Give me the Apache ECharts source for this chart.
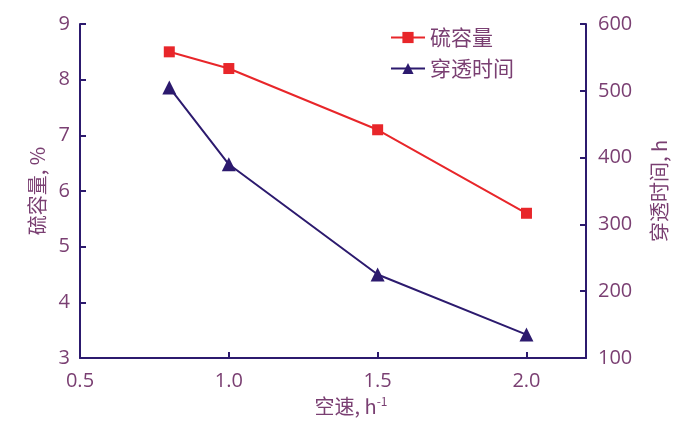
<!DOCTYPE html>
<html><head><meta charset="utf-8">
<script src="https://cdn.jsdelivr.net/npm/echarts@6/dist/echarts.min.js"></script>
<style>html,body{margin:0;padding:0;background:#fff}#c{width:687px;height:424px}</style>
</head><body><div id="c"></div>
<script>
const spaceVelocity = [0.8, 1.0, 1.5, 2.0];
const sulfurCapacity = [8.5, 8.2, 7.1, 5.6];
const breakthroughTime = [505, 390, 225, 135];
const leftTicks = [3, 4, 5, 6, 7, 8, 9];
const rightTicks = [100, 200, 300, 400, 500, 600];
const xTicks = [0.5, 1.0, 1.5, 2.0];

const axisColor = '#2c1a6e';
const labelColor = '#7a3f72';
const cjk = '"Noto Sans CJK SC", sans-serif';
const num = '"Open Sans", "Noto Sans", sans-serif';

const chart = echarts.init(document.getElementById('c'));
chart.setOption({
  animation: false,
  grid: { left: 80, right: 101, top: 24, bottom: 66 },
  legend: {
    orient: 'vertical', left: 385, top: 22, itemGap: 10,
    itemWidth: 34, itemHeight: 14,
    textStyle: { fontFamily: cjk, fontSize: 21, color: labelColor },
    data: ['硫容量', '穿透时间']
  },
  xAxis: {
    type: 'value', min: 0.5, max: 2.2, interval: 0.5,
    name: '空速, {h|h}{s|-1}', nameLocation: 'middle', nameGap: 37,
    nameTextStyle: { fontFamily: cjk, fontSize: 20, color: labelColor, padding: [0, 0, 0, 36],
      rich: { h: { fontFamily: cjk, fontSize: 20, color: labelColor }, s: { fontSize: 12, color: labelColor, verticalAlign: 'top', padding: [0, 0, 10, 0] } } },
    axisLine: { lineStyle: { color: axisColor, width: 2 } },
    axisTick: { inside: true, length: 6, lineStyle: { color: axisColor, width: 2 } },
    axisLabel: { fontFamily: num, fontSize: 20, color: labelColor, margin: 13,
      formatter: v => xTicks.some(t => Math.abs(t - v) < 1e-9) ? v.toFixed(1) : '' },
    splitLine: { show: false }
  },
  yAxis: [{
    type: 'value', min: 3, max: 9, interval: 1, position: 'left',
    name: '硫容量, %', nameLocation: 'middle', nameGap: 30, nameRotate: 90,
    nameTextStyle: { fontFamily: cjk, fontSize: 20, color: labelColor },
    axisLine: { show: true, lineStyle: { color: axisColor, width: 2 } },
    axisTick: { show: true, inside: true, length: 6, lineStyle: { color: axisColor, width: 2 } },
    axisLabel: { fontFamily: num, fontSize: 20, color: labelColor, margin: 10,
      formatter: v => leftTicks.includes(v) ? String(v) : '' },
    splitLine: { show: false }
  }, {
    type: 'value', min: 100, max: 600, interval: 100, position: 'right',
    name: '穿透时间, h', nameLocation: 'middle', nameGap: 63, nameRotate: 90,
    nameTextStyle: { fontFamily: cjk, fontSize: 20, color: labelColor },
    axisLine: { show: true, lineStyle: { color: axisColor, width: 2 } },
    axisTick: { show: true, inside: true, length: 6, lineStyle: { color: axisColor, width: 2 } },
    axisLabel: { fontFamily: num, fontSize: 20, color: labelColor, margin: 12,
      formatter: v => rightTicks.includes(v) ? String(v) : '' },
    splitLine: { show: false }
  }],
  series: [{
    name: '硫容量', type: 'line', yAxisIndex: 0,
    data: spaceVelocity.map((x, i) => [x, sulfurCapacity[i]]),
    symbol: 'rect', symbolSize: 11,
    lineStyle: { color: '#e8262a', width: 2 },
    itemStyle: { color: '#e8262a' }
  }, {
    name: '穿透时间', type: 'line', yAxisIndex: 1,
    data: spaceVelocity.map((x, i) => [x, breakthroughTime[i]]),
    symbol: 'triangle', symbolSize: 14,
    lineStyle: { color: axisColor, width: 2 },
    itemStyle: { color: axisColor }
  }]
});
</script></body></html>
